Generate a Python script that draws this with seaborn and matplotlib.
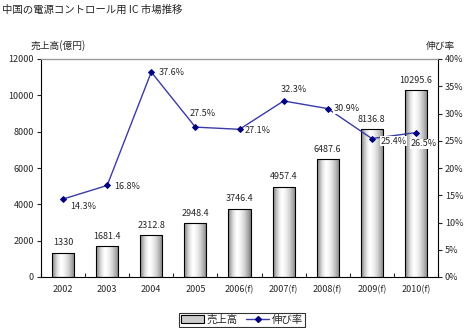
import numpy as np
import pandas as pd
import matplotlib
matplotlib.use("Agg")
import matplotlib.pyplot as plt
import seaborn as sns
from matplotlib.lines import Line2D
from matplotlib.patches import Patch
from matplotlib.ticker import FuncFormatter, FixedLocator

years = ["2002", "2003", "2004", "2005", "2006(f)", "2007(f)", "2008(f)", "2009(f)", "2010(f)"]
sales = [1330, 1681.4, 2312.8, 2948.4, 3746.4, 4957.4, 6487.6, 8136.8, 10295.6]
sales_labels = ["1330", "1681.4", "2312.8", "2948.4", "3746.4", "4957.4", "6487.6", "8136.8", "10295.6"]
growth = [14.3, 16.8, 37.6, 27.5, 27.1, 32.3, 30.9, 25.4, 26.5]

sns.set_theme(style="white")
plt.rcParams['font.family'] = ['Noto Sans CJK JP', 'DejaVu Sans']
FS = 6.5

df = pd.DataFrame({"year": years, "sales": sales, "growth": growth})

fig = plt.figure(figsize=(4.65, 3.28), dpi=100)
ax = fig.add_axes([41/465, 1-277/328, (438-41)/465, (277-59)/328])

sns.barplot(data=df, x="year", y="sales", ax=ax, color="#dddddd", width=0.5,
            edgecolor="black", linewidth=0.8, saturation=1)

# cylinder-like gradient fill for bars
grad = np.array([0.5, 0.72, 0.9, 1.0, 0.97, 0.9, 0.8, 0.66, 0.5])
grad = np.interp(np.linspace(0, 1, 64), np.linspace(0, 1, len(grad)), grad)
for p in ax.patches:
    x0, y0, w, h = p.get_x(), p.get_y(), p.get_width(), p.get_height()
    im = ax.imshow(grad[None, :], cmap="gray", vmin=0, vmax=1, aspect="auto",
                   extent=[x0, x0 + w, y0, y0 + h], zorder=p.get_zorder() + 0.1,
                   interpolation="bilinear")
    im.set_clip_path(p)
    p.set_facecolor("none")
    p.set_zorder(p.get_zorder() + 0.2)
ax.set_xlim(-0.5, len(years) - 0.5)
ax.set_ylim(0, 12000)

for i, (v, lab) in enumerate(zip(sales, sales_labels)):
    ax.text(i, v + 300, lab, ha="center", va="bottom", fontsize=FS)

ax.set_xlabel("")
ax.set_ylabel("")
ax.set_yticks(range(0, 12001, 2000))
ax.tick_params(axis="y", labelsize=FS, length=3, width=0.8, direction="out", left=True, pad=2)
ax.tick_params(axis="x", labelsize=FS, length=0, pad=6)
ax.xaxis.set_minor_locator(FixedLocator(np.arange(-0.5, len(years), 1.0)))
ax.tick_params(axis="x", which="minor", length=3, direction="in", bottom=True, width=0.8)
for s in ["left", "bottom", "right"]:
    ax.spines[s].set_color("black")
    ax.spines[s].set_linewidth(0.8)
ax.spines["top"].set_color("#999999")
ax.spines["top"].set_linewidth(1.0)

ax2 = ax.twinx()
sns.pointplot(data=df, x="year", y="growth", ax=ax2, color="#3a3aa8",
              markers="D", markersize=3, linewidth=1.0, errorbar=None)
for ln in ax2.lines:
    ln.set_markerfacecolor("#000080")
    ln.set_markeredgecolor("#000080")
ax2.set_ylim(0, 40)
ax2.set_xlim(-0.5, len(years) - 0.5)
ax2.set_yticks(range(0, 41, 5))
ax2.yaxis.set_major_formatter(FuncFormatter(lambda v, _: f"{int(v)}%"))
ax2.tick_params(axis="y", labelsize=FS, length=3, width=0.8, direction="out", right=True, pad=2)
ax2.set_ylabel("")
ax2.set_xlabel("")
for s in ax2.spines.values():
    s.set_visible(False)

# percentage labels with offsets (points)
offsets = [(5, -5), (5, -1), (5, 0), (-4, 10), (4, -1), (-2, 8), (4, 0), (6, -2), (-4, -8)]
for i, (g, off) in enumerate(zip(growth, offsets)):
    ax2.annotate(f"{g}%", (i, g), xytext=off, textcoords="offset points",
                 ha="left", va="center", fontsize=FS, zorder=5,
                 bbox=dict(facecolor="white", edgecolor="none", pad=0.3))

fig.text(2/465, 1-10/328, "中国の電源コントロール用 IC 市場推移", fontsize=7.5, ha="left", va="center")
fig.text(58/465, 1-46/328, "売上高(億円)", fontsize=FS + 0.5, ha="center", va="center")
fig.text(440/465, 1-46/328, "伸び率", fontsize=FS + 0.5, ha="center", va="center")

handles = [Patch(facecolor="#cccccc", edgecolor="black", linewidth=0.8),
           Line2D([0], [0], color="#3a3aa8", marker="D", markersize=3,
                  markerfacecolor="#000080", markeredgecolor="#000080", linewidth=1.0)]
leg = fig.legend(handles, ["売上高", "伸び率"], loc="center", bbox_to_anchor=(242/465, 1-320/328),
                 ncol=2, fontsize=FS + 1, frameon=True, fancybox=False, edgecolor="black",
                 handlelength=2.2, handleheight=0.8, columnspacing=0.8, handletextpad=0.3,
                 borderpad=0.2, borderaxespad=0)
leg.get_frame().set_linewidth(0.8)

fig.savefig("out.png", dpi=100)
